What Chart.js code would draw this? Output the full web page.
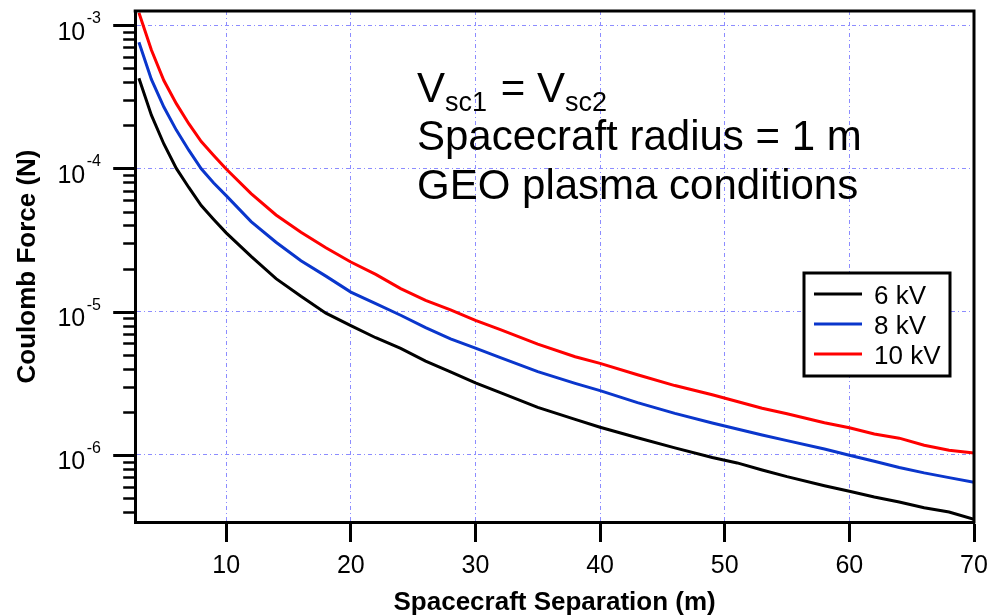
<!DOCTYPE html>
<html>
<head>
<meta charset="utf-8">
<title>Coulomb Force vs Spacecraft Separation</title>
<script src="https://cdn.jsdelivr.net/npm/chart.js@4.4.1/dist/chart.umd.min.js"></script>
<style>
  html, body { margin: 0; padding: 0; background: #fff; }
  #forceChart { display: block; }
</style>
</head>
<body>
<canvas id="forceChart" width="1002" height="615"></canvas>
<script>
const FONT = '"Liberation Sans", Arial, sans-serif';

// separation (m)
const sepM = [3, 4, 5, 6, 7, 8, 9, 10, 12, 14, 16, 18, 20, 22, 24, 26, 28, 30, 32, 35,
              38, 40, 43, 46, 49, 51, 53, 55, 58, 60, 62, 64, 66, 68, 70];

// Coulomb force (N)
const force6kV = [4.26e-4, 2.35e-4, 1.48e-4, 1.0e-4, 7.36e-5, 5.5e-5, 4.4e-5, 3.55e-5, 2.43e-5, 1.70e-5,
                  1.28e-5, 9.77e-6, 8.0e-6, 6.58e-6, 5.55e-6, 4.52e-6, 3.8e-6, 3.18e-6, 2.72e-6, 2.15e-6,
                  1.77e-6, 1.56e-6, 1.32e-6, 1.12e-6, 9.6e-7, 8.8e-7, 7.86e-7, 7.06e-7, 6.1e-7, 5.58e-7,
                  5.09e-7, 4.70e-7, 4.28e-7, 4.0e-7, 3.56e-7];
const force8kV = [7.6e-4, 4.18e-4, 2.68e-4, 1.85e-4, 1.34e-4, 9.93e-5, 7.9e-5, 6.45e-5, 4.25e-5, 3.05e-5,
                  2.27e-5, 1.77e-5, 1.37e-5, 1.14e-5, 9.44e-6, 7.73e-6, 6.46e-6, 5.56e-6, 4.78e-6, 3.82e-6,
                  3.16e-6, 2.81e-6, 2.32e-6, 1.95e-6, 1.67e-6, 1.52e-6, 1.38e-6, 1.26e-6, 1.10e-6, 9.95e-7,
                  9.04e-7, 8.18e-7, 7.5e-7, 6.95e-7, 6.44e-7];
const force10kV = [1.22e-3, 6.7e-4, 4.1e-4, 2.83e-4, 2.05e-4, 1.54e-4, 1.23e-4, 9.9e-5, 6.67e-5, 4.73e-5,
                   3.58e-5, 2.79e-5, 2.22e-5, 1.82e-5, 1.45e-5, 1.20e-5, 1.03e-5, 8.7e-6, 7.5e-6, 5.94e-6,
                   4.85e-6, 4.36e-6, 3.63e-6, 3.05e-6, 2.63e-6, 2.36e-6, 2.12e-6, 1.94e-6, 1.68e-6, 1.55e-6,
                   1.40e-6, 1.31e-6, 1.17e-6, 1.08e-6, 1.03e-6];

const seriesLabels = ['6 kV', '8 kV', '10 kV'];
const seriesColors = ['#000000', '#0a36cc', '#ff0000'];

const xTicks = [10, 20, 30, 40, 50, 60, 70];
const yDecades = [1e-6, 1e-5, 1e-4, 1e-3];
const yExponents = ['-6', '-5', '-4', '-3'];

const noteLines = ['Spacecraft radius = 1 m', 'GEO plasma conditions'];

const GRID = '#8c8cff';

const toPoints = vals => sepM.map((s, i) => ({ x: s, y: vals[i] }));

// frame, y ticks with superscript labels, legend box and note text
const decorations = {
  id: 'decorations',
  afterDraw(chart) {
    const { ctx, chartArea: a, scales: { y } } = chart;
    ctx.save();

    // top + right frame
    ctx.strokeStyle = '#000';
    ctx.lineWidth = 3;
    ctx.beginPath();
    ctx.moveTo(a.left - 1.5, a.top);
    ctx.lineTo(a.right, a.top);
    ctx.lineTo(a.right, a.bottom + 1.5);
    ctx.stroke();

    // y tick marks, major and minor, outside the axis
    for (let e = -7; e <= -3; e++) {
      for (let m = 1; m <= 9; m++) {
        const v = m * Math.pow(10, e);
        if (v < y.min || v > y.max) continue;
        const py = Math.round(y.getPixelForValue(v)) + 0.5;
        ctx.lineWidth = m === 1 ? 3 : 2.5;
        ctx.beginPath();
        ctx.moveTo(a.left - (m === 1 ? 22 : 12), py);
        ctx.lineTo(a.left, py);
        ctx.stroke();
      }
    }

    // y labels 10^n
    ctx.fillStyle = '#000';
    yDecades.forEach((v, i) => {
      const py = y.getPixelForValue(v);
      ctx.font = '25px ' + FONT;
      ctx.textAlign = 'right';
      ctx.textBaseline = 'alphabetic';
      ctx.fillText('10', a.left - 50, py + 14.5);
      ctx.font = '16px ' + FONT;
      ctx.textAlign = 'left';
      ctx.fillText(yExponents[i], a.left - 48.5, py - 2);
    });

    // legend box
    const bx = a.right - 170, by = 273, bw = 146, bh = 103;
    ctx.fillStyle = '#fff';
    ctx.fillRect(bx, by, bw, bh);
    ctx.lineWidth = 3;
    ctx.strokeStyle = '#000';
    ctx.strokeRect(bx, by, bw, bh);
    chart.data.datasets.forEach((ds, i) => {
      const ry = by + 21 + i * 30;
      ctx.strokeStyle = ds.borderColor;
      ctx.lineWidth = 3;
      ctx.beginPath();
      ctx.moveTo(bx + 10, ry);
      ctx.lineTo(bx + 58, ry);
      ctx.stroke();
      ctx.fillStyle = '#000';
      ctx.font = '26px ' + FONT;
      ctx.textAlign = 'left';
      ctx.fillText(ds.label, bx + 70, ry + 9.5);
    });

    // note text: V_sc1 = V_sc2 etc.
    const tx = 417;
    ctx.fillStyle = '#000';
    ctx.textAlign = 'left';
    ctx.textBaseline = 'alphabetic';
    let cx = tx;
    const big = '42px ' + FONT, sub = '27px ' + FONT;
    [['V', big, 0], ['sc1', sub, 9], [' = V', big, 0], ['sc2', sub, 9]].forEach(([t, f, dy]) => {
      ctx.font = f;
      ctx.fillText(t, cx, 101.7 + dy);
      cx += ctx.measureText(t).width + (f === sub ? 2 : 0);
    });
    ctx.font = big;
    noteLines.forEach((t, i) => ctx.fillText(t, tx, 150 + i * 49));

    ctx.restore();
  }
};

new Chart(document.getElementById('forceChart'), {
  type: 'line',
  data: {
    datasets: [force6kV, force8kV, force10kV].map((vals, i) => ({
      label: seriesLabels[i],
      data: toPoints(vals),
      borderColor: seriesColors[i],
      borderWidth: 3,
      pointRadius: 0,
      tension: 0,
      fill: false
    }))
  },
  options: {
    responsive: false,
    animation: false,
    layout: { padding: { left: 0, top: 11, right: 28, bottom: -1 } },
    plugins: { legend: { display: false }, tooltip: { enabled: false } },
    scales: {
      x: {
        type: 'linear',
        min: 2.7,
        max: 70,
        afterBuildTicks: s => { s.ticks = xTicks.map(v => ({ value: v })); },
        ticks: { color: '#000', font: { size: 25, family: FONT, lineHeight: 1 }, padding: 11.5, maxRotation: 0 },
        grid: {
          color: c => (c.tick && c.tick.value === 70 ? 'rgba(0,0,0,0)' : GRID),
          lineWidth: 1,
          tickLength: 20,
          tickWidth: 3,
          tickColor: '#000'
        },
        border: { color: '#000', width: 3, dash: [4, 3, 1, 3] },
        title: {
          display: true,
          text: 'Spacecraft Separation (m)',
          color: '#000',
          font: { size: 26, weight: 'bold', family: FONT, lineHeight: 1 },
          padding: { top: 0, bottom: 0 }
        }
      },
      y: {
        type: 'logarithmic',
        min: 3.406e-7,
        max: 1.254e-3,
        afterBuildTicks: s => { s.ticks = yDecades.map(v => ({ value: v })); },
        ticks: { display: false },
        grid: { color: GRID, lineWidth: 1, drawTicks: false },
        border: { color: '#000', width: 3, dash: [4, 3, 1, 3] },
        title: {
          display: true,
          text: 'Coulomb Force (N)',
          color: '#000',
          font: { size: 26, weight: 'bold', family: FONT },
          padding: { top: 12, bottom: 92 }
        }
      }
    }
  },
  plugins: [decorations]
});
</script>
</body>
</html>
